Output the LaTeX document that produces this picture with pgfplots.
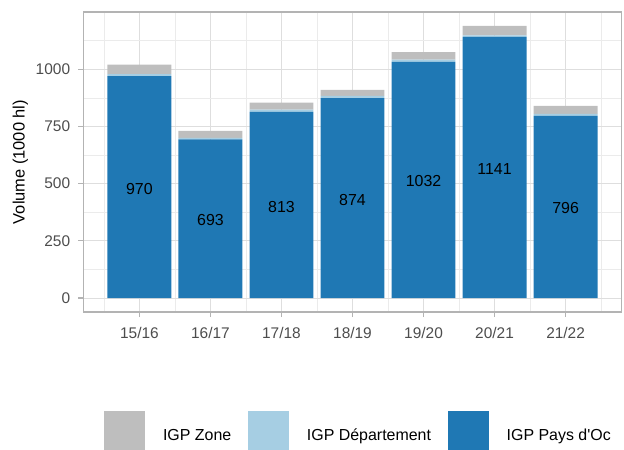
\documentclass[border=0pt]{standalone}
\usepackage{fontspec}
\setmainfont{Liberation Sans}
\usepackage{pgfplots}
\pgfplotsset{compat=1.18}
\definecolor{paysoc}{HTML}{1F78B4}
\definecolor{dept}{HTML}{A6CEE3}
\definecolor{zone}{HTML}{BEBEBE}
\definecolor{gridmaj}{HTML}{DEDEDE}
\definecolor{gridmin}{HTML}{EBEBEB}
\definecolor{frame}{HTML}{B3B3B3}
\definecolor{ticktxt}{HTML}{4D4D4D}

\pgfplotsset{
  sqlegend/.style={legend image code/.code={\fill[##1] (0bp,-18.3bp) rectangle (41bp,29.7bp);}},
  panel/.style={scale only axis, width=538.4bp, height=300bp,
    xmin=-0.79, xmax=6.79, ymin=-61, ymax=1250},
}

\begin{document}
\begin{tikzpicture}
\path[use as bounding box] (-83.3bp,-138bp) rectangle (540.7bp,312bp);
\begin{axis}[panel,
  ybar stacked, bar width=0.9,
  xtick={0,...,6},
  xticklabels={15/16,16/17,17/18,18/19,19/20,20/21,21/22},
  ytick={0,250,500,750,1000},
  minor xtick={-0.5,0.5,...,6.5},
  minor ytick={125,375,625,875,1125},
  grid=both,
  major grid style={gridmaj, line width=0.9bp},
  minor grid style={gridmin, line width=0.5bp},
  axis line style={frame, line width=1.1bp},
  tick align=outside, xtick pos=bottom, ytick pos=left,
  major tick length=5bp, minor tick length=0pt,
  major tick style={frame, line width=1.1bp},
  /pgf/number format/assume math mode=true,
  /pgf/number format/1000 sep={},
  tick label style={font=\fontsize{15.5}{18}\selectfont, text=ticktxt, inner sep=0pt},
  xticklabel style={anchor=north, yshift=-10bp},
  yticklabel style={anchor=east, xshift=-8bp},
  ylabel={Volume (1000 hl)},
  every axis y label/.style={at={(axis description cs:-0.1022,0.5)}, rotate=90,
    anchor=south, inner sep=0pt, font=\fontsize{16.5}{19}\selectfont},
  legend columns=3, reverse legend,
  legend style={draw=none, fill=none, at={(axis description cs:0.5094,-0.409)},
    anchor=center, font=\fontsize{16}{19}\selectfont, column sep=0pt,
    inner sep=0pt, nodes={inner sep=0pt, anchor=base west}},
  /tikz/every odd column/.append style={column sep=17.7bp},
  /tikz/every even column/.append style={column sep=17bp},
]
\addplot[fill=paysoc, draw=none, sqlegend] coordinates {
  (0,970) (1,693) (2,813) (3,874) (4,1032) (5,1141) (6,796)};
\addlegendentry{IGP Pays d\textquotesingle Oc}
\addplot[fill=dept, draw=none, sqlegend] coordinates {
  (0,8) (1,7) (2,10) (3,9) (4,10) (5,7) (6,9)};
\addlegendentry{IGP Département}
\addplot[fill=zone, draw=none, sqlegend] coordinates {
  (0,42) (1,31) (2,31) (3,27) (4,33) (5,41) (6,35)};
\addlegendentry{IGP Zone}
\end{axis}
\begin{axis}[panel, hide axis,
  nodes near coords, point meta=explicit symbolic,
  every node near coord/.append style={anchor=center, inner sep=0pt,
    font=\fontsize{16}{19}\selectfont, text=black, yshift=-1.5bp},
]
\addplot[only marks, mark=none] coordinates {
  (0,485) [970] (1,346.5) [693] (2,406.5) [813] (3,437) [874]
  (4,516) [1032] (5,570.5) [1141] (6,398) [796]};
\end{axis}
\end{tikzpicture}
\end{document}
